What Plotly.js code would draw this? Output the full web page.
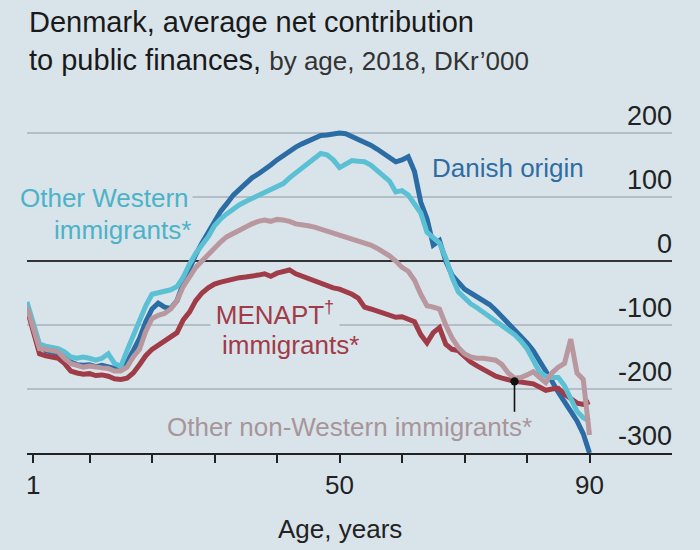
<!DOCTYPE html>
<html><head><meta charset="utf-8">
<script src="https://cdn.plot.ly/plotly-3.0.1.min.js"></script>
<style>html,body{margin:0;padding:0;background:#d9e4ea;}#chart{width:700px;height:550px;}</style>
</head><body><div id="chart"></div>
<script>
const ages = [0,1,2,3,4,5,6,7,8,9,10,11,12,13,14,15,16,17,18,19,20,21,22,23,24,25,26,27,28,29,30,
31,32,33,34,35,36,37,38,39,40,41,42,43,44,45,46,47,48,49,50,51,52,53,54,55,56,57,58,59,60,
61,62,63,64,65,66,67,68,69,70,71,72,73,74,75,76,77,78,79,80,81,82,83,84,85,86,87,88,89,90];

const danishOrigin = [-72,-100,-132,-140,-142,-145,-150,-158,-162,-163,-162,-165,-163,-165,-168,-168,-158,-140,-121,-95,-75,
-66,-72,-74,-62,-35,-12,10,28,45,62,78,90,103,112,122,130,136,142,150,158,
165,172,178,183,188,192,196,197,198,200,199,195,190,186,181,175,168,161,155,158,
163,140,92,66,25,32,0,-22,-33,-44,-50,-56,-61,-68,-77,-87,-97,-106,-117,-128,
-140,-155,-170,-188,-205,-220,-233,-250,-270,-300];

const otherWestern = [-64,-95,-130,-133,-135,-137,-142,-150,-152,-150,-152,-155,-152,-145,-160,-165,-140,-115,-95,-70,-52,
-50,-48,-45,-40,-25,-5,12,25,38,55,66,74,82,88,93,98,103,107,112,117,
121,130,138,146,152,160,168,166,158,146,152,157,156,155,150,142,133,125,108,110,
103,90,75,45,36,28,5,-25,-48,-58,-67,-73,-80,-86,-92,-100,-107,-115,-125,-137,
-155,-173,-180,-182,-182,-195,-215,-235,-245,-250];

const menapt = [-75,-110,-145,-148,-150,-152,-160,-172,-175,-177,-176,-179,-178,-180,-184,-185,-183,-175,-162,-148,-138,
-132,-126,-120,-112,-92,-80,-62,-50,-42,-36,-33,-30,-28,-26,-25,-24,-22,-20,-24,-19,
-16,-14,-20,-24,-28,-32,-36,-38,-42,-44,-47,-52,-58,-72,-75,-78,-82,-84,-88,-87,
-92,-95,-115,-128,-112,-104,-130,-138,-140,-150,-158,-164,-170,-174,-180,-183,-186,-188,-189,-190,
-192,-197,-202,-200,-199,-208,-215,-222,-224,-220];

const otherNonWestern = [-72,-105,-137,-138,-140,-142,-152,-160,-163,-166,-164,-166,-167,-168,-172,-172,-166,-150,-138,-110,-90,
-85,-82,-75,-62,-40,-25,-10,0,10,22,30,38,43,50,55,58,62,64,62,65,
64,62,58,57,55,53,50,47,44,40,38,34,32,28,25,20,15,8,0,-10,
-16,-30,-52,-70,-72,-75,-100,-120,-135,-145,-150,-152,-152,-153,-155,-162,-175,-183,-182,-178,
-173,-182,-190,-175,-166,-160,-122,-175,-185,-272];

const seriesNames = ['Danish origin','Other Western immigrants*','MENAPT† immigrants*','Other non-Western immigrants*'];
const seriesColors = ['#2c6ca4','#5cc0d5','#a03b48','#b8979f'];

const yTickVals = [-300,-200,-100,0,100,200];
const yTickText = ['-300','-200','-100','0','100','200'];
const xTickVals = [1,10,20,30,40,50,60,70,80,90];
const xTickText = ['1','','','','','50','','','','90'];
const pointerAge = 78;

const FONT = 'Liberation Sans, Arial, sans-serif';
const bg = '#d9e4ea';

function line(y, i){
  return {x: ages, y: y, type:'scatter', mode:'lines', name: seriesNames[i],
    line:{color: seriesColors[i], width:5}, hoverinfo:'skip'};
}
const data = [line(danishOrigin,0), line(menapt,2), line(otherWestern,1), line(otherNonWestern,3)];

const annotations = [
  {x:0, y:1.275, xref:'paper', yref:'paper', xanchor:'left', yanchor:'top', align:'left', showarrow:false,
   text:'Denmark, average net contribution<br>to public finances, <span style="font-size:26px;color:#333">by age, 2018, DKr’000</span>',
   font:{family:FONT, size:29, color:'#1a1a1a'}},
  {x:64.4, y:145, xref:'x', yref:'y', text:'Danish origin', showarrow:false, xanchor:'left', yanchor:'middle',
   font:{family:FONT,size:26,color:'#2f6ca3'}},
  {x:26.6, y:98, xref:'x', yref:'y', text:'Other Western', showarrow:false, xanchor:'right', yanchor:'middle',
   font:{family:FONT,size:26,color:'#4cb2c8'}, bgcolor:bg, borderpad:3},
  {x:26.6, y:48, xref:'x', yref:'y', text:'immigrants*', showarrow:false, xanchor:'right', yanchor:'middle',
   font:{family:FONT,size:26,color:'#4cb2c8'}},
  {x:29.2, y:-82, xref:'x', yref:'y', text:'MENAPT<sup>†</sup>', showarrow:false, xanchor:'left', yanchor:'middle',
   width:128, align:'center', font:{family:FONT,size:26,color:'#a03b48'}, bgcolor:bg, borderpad:0},
  {x:30.8, y:-131, xref:'x', yref:'y', text:'immigrants*', showarrow:false, xanchor:'left', yanchor:'middle',
   font:{family:FONT,size:26,color:'#a03b48'}},
  {x:51.6, y:-260, xref:'x', yref:'y', text:'Other non-Western immigrants*', showarrow:false, xanchor:'center', yanchor:'middle',
   font:{family:FONT,size:26,color:'#a8959b'}},
  {x:pointerAge, y:menapt[pointerAge], xref:'x', yref:'y', text:'', showarrow:true, arrowhead:6, arrowsize:1.3,
   arrowwidth:1.6, arrowcolor:'#111', ax:0, ay:32},
  {x:50, y:-0.215, xref:'x', yref:'paper', text:'Age, years', showarrow:false, xanchor:'center', yanchor:'middle',
   font:{family:FONT,size:26,color:'#222'}}
];

const layout = {
  width:700, height:550,
  paper_bgcolor:bg, plot_bgcolor:bg,
  margin:{l:27, r:28, t:101, b:97},
  showlegend:false,
  font:{family:FONT, color:'#222'},
  xaxis:{range:[0,103.2], tickvals:xTickVals, ticktext:xTickText, ticks:'outside', ticklen:8, tickwidth:2,
    tickcolor:'#222', showline:true, linecolor:'#222', linewidth:2, showgrid:false, zeroline:false,
    tickfont:{family:FONT,size:26,color:'#222'}, fixedrange:true},
  yaxis:{range:[-300,250], side:'right', tickvals:yTickVals, ticktext:yTickText, ticks:'',
    ticklabelposition:'inside', ticklabelshift:-17, ticklabelstandoff:-3,
    showgrid:true, gridcolor:'#b3bec6', gridwidth:1.6, zeroline:true, zerolinecolor:'#333', zerolinewidth:2,
    showline:false, tickfont:{family:FONT,size:27,color:'#222'}, fixedrange:true},
  annotations: annotations
};

Plotly.newPlot('chart', data, layout, {displayModeBar:false, staticPlot:true});
</script></body></html>
